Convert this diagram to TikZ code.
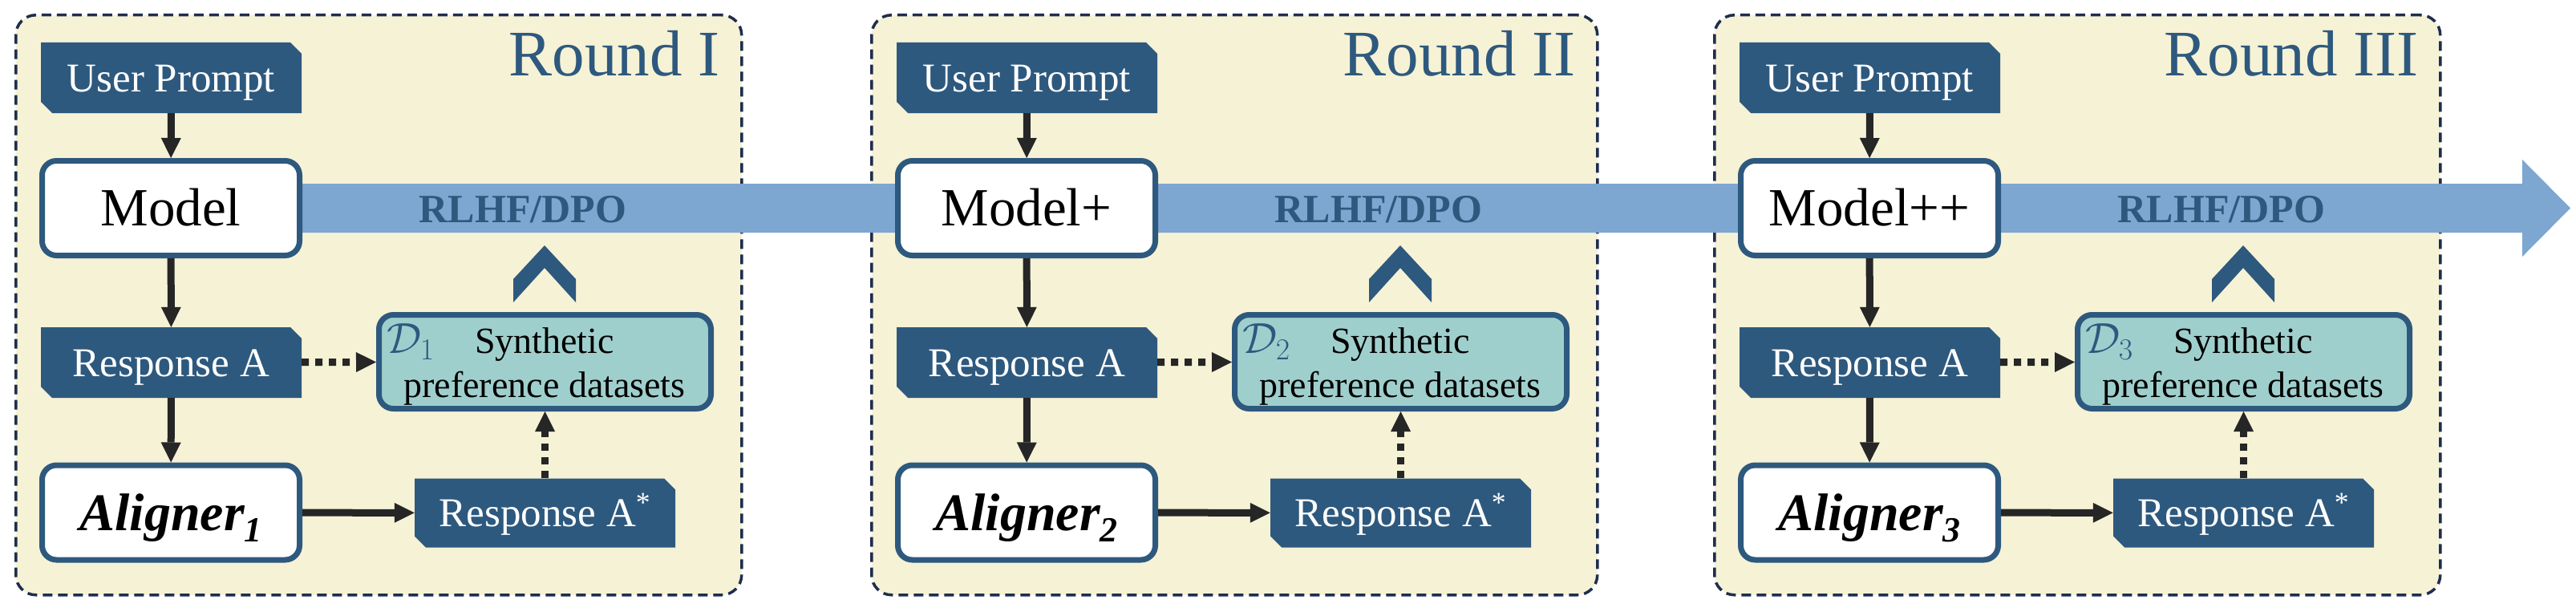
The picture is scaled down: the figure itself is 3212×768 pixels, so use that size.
\documentclass[tikz,border=0pt]{standalone}
\usepackage{fix-cm}
\usepackage{fontspec}
\setmainfont{Liberation Serif}
\usetikzlibrary{arrows.meta}
\definecolor{darkb}{HTML}{2E597E}
\definecolor{bandc}{HTML}{7DA6D1}
\definecolor{panelc}{HTML}{F6F2D6}
\definecolor{navy}{HTML}{1F2D4E}
\definecolor{dsc}{HTML}{9FCFCD}
\definecolor{arrc}{HTML}{262626}
\tikzset{
  panel/.style={fill=panelc, draw=navy, line width=3.5pt, dash pattern=on 12pt off 7pt,
    rounded corners=25pt, minimum width=905pt, minimum height=723pt, anchor=north west, inner sep=0pt},
  dbox/.style={minimum width=325pt, minimum height=88pt, inner sep=0pt, text=white,
    text height=34pt, text depth=0pt, font=\fontsize{51}{51}\selectfont,
    path picture={\fill[darkb]
      ([yshift=-14pt]path picture bounding box.north east) --
      ([xshift=-14pt]path picture bounding box.north east) --
      (path picture bounding box.north west) --
      ([yshift=14pt]path picture bounding box.south west) --
      ([xshift=14pt]path picture bounding box.south west) --
      (path picture bounding box.south east) -- cycle;}},
  wbox/.style={fill=white, draw=darkb, line width=7pt, rounded corners=18pt,
    minimum width=321pt, minimum height=118pt, inner sep=0pt,
    text height=44pt, text depth=0pt, font=\fontsize{67}{67}\selectfont},
  dsbox/.style={fill=dsc, draw=darkb, line width=7pt, rounded corners=18pt,
    minimum width=414pt, minimum height=117pt, inner sep=0pt},
  arr/.style={draw=arrc, line width=9pt, -{Triangle[length=25pt,width=25pt,line width=0pt]}},
  dotarr/.style={draw=arrc, line width=9pt, dash pattern=on 9pt off 8pt,
    -{Triangle[length=25pt,width=25pt,line width=0pt]}},
  lbl/.style={inner sep=0pt},
}
\begin{document}
\begin{tikzpicture}[x=1pt,y=-1pt]
\useasboundingbox (0,0) rectangle (3212,768);
% panels
\foreach \ox/\i in {18/1,1085/2,2136/3}{
  \node[panel] (panel\i) at (\ox,17) {};
}
% RLHF/DPO band
\coordinate (bandstart) at (213,229);
\coordinate (bandtip) at (3205,259.5);
\fill[bandc] (bandstart) -- (3145,229) -- (3145,199) -- (bandtip) -- (3145,320) -- (3145,290) -- (213,290) -- cycle;
% content
\foreach \ox/\i/\mname/\rn in {18/1/Model/I,1085/2/Model+/II,2136/3/Model++/III}{
  \node[lbl, anchor=base east, text=darkb, font=\fontsize{81}{81}\selectfont] (round\i) at (\ox+880,95) {Round \rn};
  \node[dbox] (up\i) at (\ox+195.5,97) {User Prompt};
  \node[wbox] (m\i) at (\ox+195,259.5) {\mname};
  \node[dbox] (ra\i) at (\ox+195.5,452) {Response A};
  \node[wbox, font=\fontsize{66}{66}\selectfont\bfseries\itshape] (al\i) at (\ox+195,639)
     {Aligner\raisebox{-14pt}{\fontsize{44}{44}\selectfont\bfseries\itshape \i}};
  \node[dsbox] (ds\i) at (\ox+661.5,451) {};
  \node[dbox, minimum height=86pt] (ras\i) at (\ox+661.5,639.5) {Response A\textsuperscript{*}};
  \node[lbl, anchor=base, text=darkb, font=\fontsize{50}{50}\selectfont\bfseries] (rh\i) at (\ox+634,277) {RLHF/DPO};
  \fill[darkb] (\ox+622,377) -- (\ox+622,348) -- (\ox+661,306) -- (\ox+700,348) -- (\ox+700,377) -- (\ox+661,334) -- cycle;
  \node[lbl, anchor=base west, text=darkb, font=\fontsize{54}{54}\selectfont] (dd\i) at (\ox+464,440) {$\mathcal{D}_{\i}$};
  \node[lbl, anchor=base, font=\fontsize{46}{46}\selectfont] (syn\i) at (\ox+661,440) {Synthetic};
  \node[lbl, anchor=base, font=\fontsize{46}{46}\selectfont] (pd\i) at (\ox+661,495) {preference datasets};
  \draw[arr] (up\i) -- (m\i);
  \draw[arr] (m\i) -- (ra\i);
  \draw[arr] (ra\i) -- (al\i);
  \draw[arr] (al\i) -- (ras\i);
  \draw[dotarr] (ra\i) -- (ds\i);
  \draw[dotarr] (ras\i) -- (ds\i);
}
\end{tikzpicture}
\end{document}
